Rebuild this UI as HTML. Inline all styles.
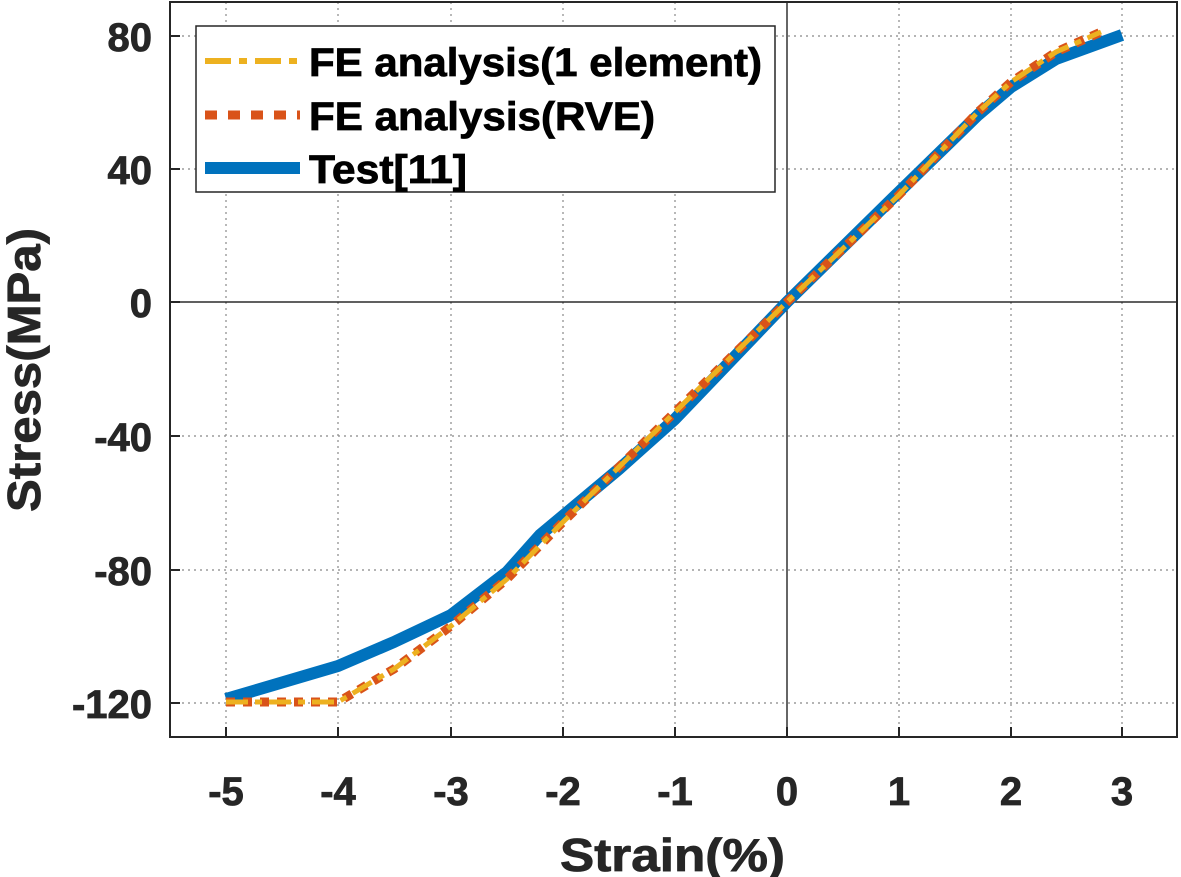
<!DOCTYPE html>
<html><head><style>body{margin:0;background:#fff}svg{display:block}</style></head><body>
<svg width="1181" height="877" viewBox="0 0 1181 877" xmlns="http://www.w3.org/2000/svg" font-family="Liberation Sans, sans-serif" font-weight="bold">
<rect width="1181" height="877" fill="#fff"/>
<g stroke="#888" stroke-width="1.2" stroke-dasharray="2,4">
<line x1="226" y1="2" x2="226" y2="737"/><line x1="338" y1="2" x2="338" y2="737"/><line x1="451" y1="2" x2="451" y2="737"/><line x1="563" y1="2" x2="563" y2="737"/><line x1="675" y1="2" x2="675" y2="737"/><line x1="899" y1="2" x2="899" y2="737"/><line x1="1011" y1="2" x2="1011" y2="737"/><line x1="1122" y1="2" x2="1122" y2="737"/>
<line x1="170" y1="36" x2="1177" y2="36"/><line x1="170" y1="169" x2="1177" y2="169"/><line x1="170" y1="436" x2="1177" y2="436"/><line x1="170" y1="570" x2="1177" y2="570"/><line x1="170" y1="703" x2="1177" y2="703"/>
</g>
<line x1="787" y1="2" x2="787" y2="737" stroke="#000" stroke-width="1.2"/>
<line x1="170" y1="302" x2="1177" y2="302" stroke="#000" stroke-width="1.2"/>
<rect x="170" y="2" width="1007" height="735" fill="none" stroke="#262626" stroke-width="2"/>
<g stroke="#262626" stroke-width="2">
<line x1="226" y1="737" x2="226" y2="727"/><line x1="338" y1="737" x2="338" y2="727"/><line x1="451" y1="737" x2="451" y2="727"/><line x1="563" y1="737" x2="563" y2="727"/><line x1="675" y1="737" x2="675" y2="727"/><line x1="787" y1="737" x2="787" y2="727"/><line x1="899" y1="737" x2="899" y2="727"/><line x1="1011" y1="737" x2="1011" y2="727"/><line x1="1122" y1="737" x2="1122" y2="727"/>
<line x1="170" y1="36" x2="180" y2="36"/><line x1="170" y1="169" x2="180" y2="169"/><line x1="170" y1="302" x2="180" y2="302"/><line x1="170" y1="436" x2="180" y2="436"/><line x1="170" y1="570" x2="180" y2="570"/><line x1="170" y1="703" x2="180" y2="703"/>
</g>
<polyline fill="none" stroke="#0072BD" stroke-width="12" stroke-linejoin="round" points="226,699 338,666 394,642 451,615 507,572 540,535 619,469 675,419 787,302 899,192 978,115 1011,87 1056,59 1122,35"/>
<polyline fill="none" stroke="#D95319" stroke-width="9" stroke-dasharray="9,8" points="226,702 338,702 394,669 451,626 507,579 563,522 675,412 787,302 899,195 978,112 1011,82 1056,52 1101,32"/>
<polyline fill="none" stroke="#EDB120" stroke-width="5" stroke-dasharray="22,7,7,7" points="226,702 338,702 394,669 451,626 507,579 563,522 675,412 787,302 899,195 978,112 1011,82 1056,52 1101,32"/>
<rect x="196" y="26" width="579" height="166" fill="#fff" stroke="#262626" stroke-width="1.5"/>
<line x1="205" y1="61" x2="300" y2="61" stroke="#EDB120" stroke-width="6" stroke-dasharray="26,8,8,8"/>
<line x1="205" y1="115" x2="300" y2="115" stroke="#D95319" stroke-width="9" stroke-dasharray="12,11"/>
<line x1="205" y1="168" x2="300" y2="168" stroke="#0072BD" stroke-width="12"/>
<g font-size="40" fill="#000" stroke="#000" stroke-width="0.8">
<text x="309" y="76" textLength="453" lengthAdjust="spacingAndGlyphs">FE analysis(1 element)</text>
<text x="309" y="130" textLength="346" lengthAdjust="spacingAndGlyphs">FE analysis(RVE)</text>
<text x="309" y="183" textLength="158" lengthAdjust="spacingAndGlyphs">Test[11]</text>
</g>
<g font-size="40" fill="#262626" stroke="#262626" stroke-width="0.8" text-anchor="middle">
<text x="226" y="805">-5</text><text x="338" y="805">-4</text><text x="451" y="805">-3</text><text x="563" y="805">-2</text><text x="675" y="805">-1</text><text x="787" y="805">0</text><text x="899" y="805">1</text><text x="1011" y="805">2</text><text x="1122" y="805">3</text>
</g>
<g font-size="40" fill="#262626" stroke="#262626" stroke-width="0.8" text-anchor="end">
<text x="152" y="51">80</text><text x="152" y="184">40</text><text x="152" y="317">0</text><text x="152" y="451">-40</text><text x="152" y="585">-80</text><text x="152" y="718">-120</text>
</g>
<text x="560" y="871" font-size="46" fill="#262626" stroke="#262626" stroke-width="0.8" textLength="225" lengthAdjust="spacingAndGlyphs">Strain(%)</text>
<text transform="translate(40,512) rotate(-90)" font-size="46" fill="#262626" stroke="#262626" stroke-width="0.8" textLength="284" lengthAdjust="spacingAndGlyphs">Stress(MPa)</text>
</svg>
</body></html>
